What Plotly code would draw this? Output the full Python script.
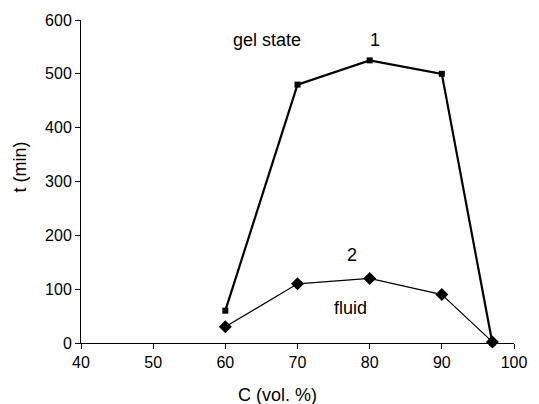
import plotly.graph_objects as go

conc = [60, 70, 80, 90, 97]
t_gel = [60, 480, 525, 500, 0]
t_fluid = [30, 110, 120, 90, 2]
x_ticks = [40, 50, 60, 70, 80, 90, 100]
y_ticks = [0, 100, 200, 300, 400, 500, 600]

fig = go.Figure()
fig.add_trace(go.Scatter(x=conc, y=t_gel, mode="lines+markers",
                         line=dict(color="black", width=2.2),
                         marker=dict(symbol="square", size=6, color="black"),
                         cliponaxis=False))
fig.add_trace(go.Scatter(x=conc, y=t_fluid, mode="lines+markers",
                         line=dict(color="black", width=1.2),
                         marker=dict(symbol="diamond", size=10, color="black"),
                         cliponaxis=False))

tick_font = dict(family="Liberation Sans, Arial", size=16, color="black")
big_font = dict(family="Liberation Sans, Arial", size=18, color="black")
annots = [("gel state", 65.8, 563), ("1", 80.8, 563), ("2", 77.6, 163), ("fluid", 77.3, 65)]
for txt, ax, ay in annots:
    fig.add_annotation(x=ax, y=ay, text=txt, showarrow=False, font=big_font)

# axis titles
fig.add_annotation(xref="paper", yref="paper", x=(283 - 81) / 444, y=-(395 - 343) / 323,
                   text="C (vol. %)", showarrow=False, font=big_font,
                   xanchor="center", yanchor="middle")
fig.add_annotation(xref="paper", yref="paper", x=-(81 - 18) / 444, y=(343 - 167) / 323,
                   text="t (min)", showarrow=False, font=big_font, textangle=-90,
                   xanchor="center", yanchor="middle")

fig.update_layout(
    width=539, height=404,
    margin=dict(l=81, r=14, t=20, b=61),
    paper_bgcolor="white", plot_bgcolor="white",
    showlegend=False, font=tick_font,
)
fig.update_xaxes(range=[40, 100], tickvals=x_ticks, ticks="outside", ticklen=5,
                 tickcolor="black", showline=True, linecolor="black", linewidth=1,
                 showgrid=False, zeroline=False, tickfont=tick_font)
fig.update_yaxes(range=[0, 600], tickvals=y_ticks, ticks="outside", ticklen=5,
                 tickcolor="black", showline=True, linecolor="black", linewidth=1,
                 showgrid=False, zeroline=False, tickfont=tick_font)

fig.write_html("out.html")
